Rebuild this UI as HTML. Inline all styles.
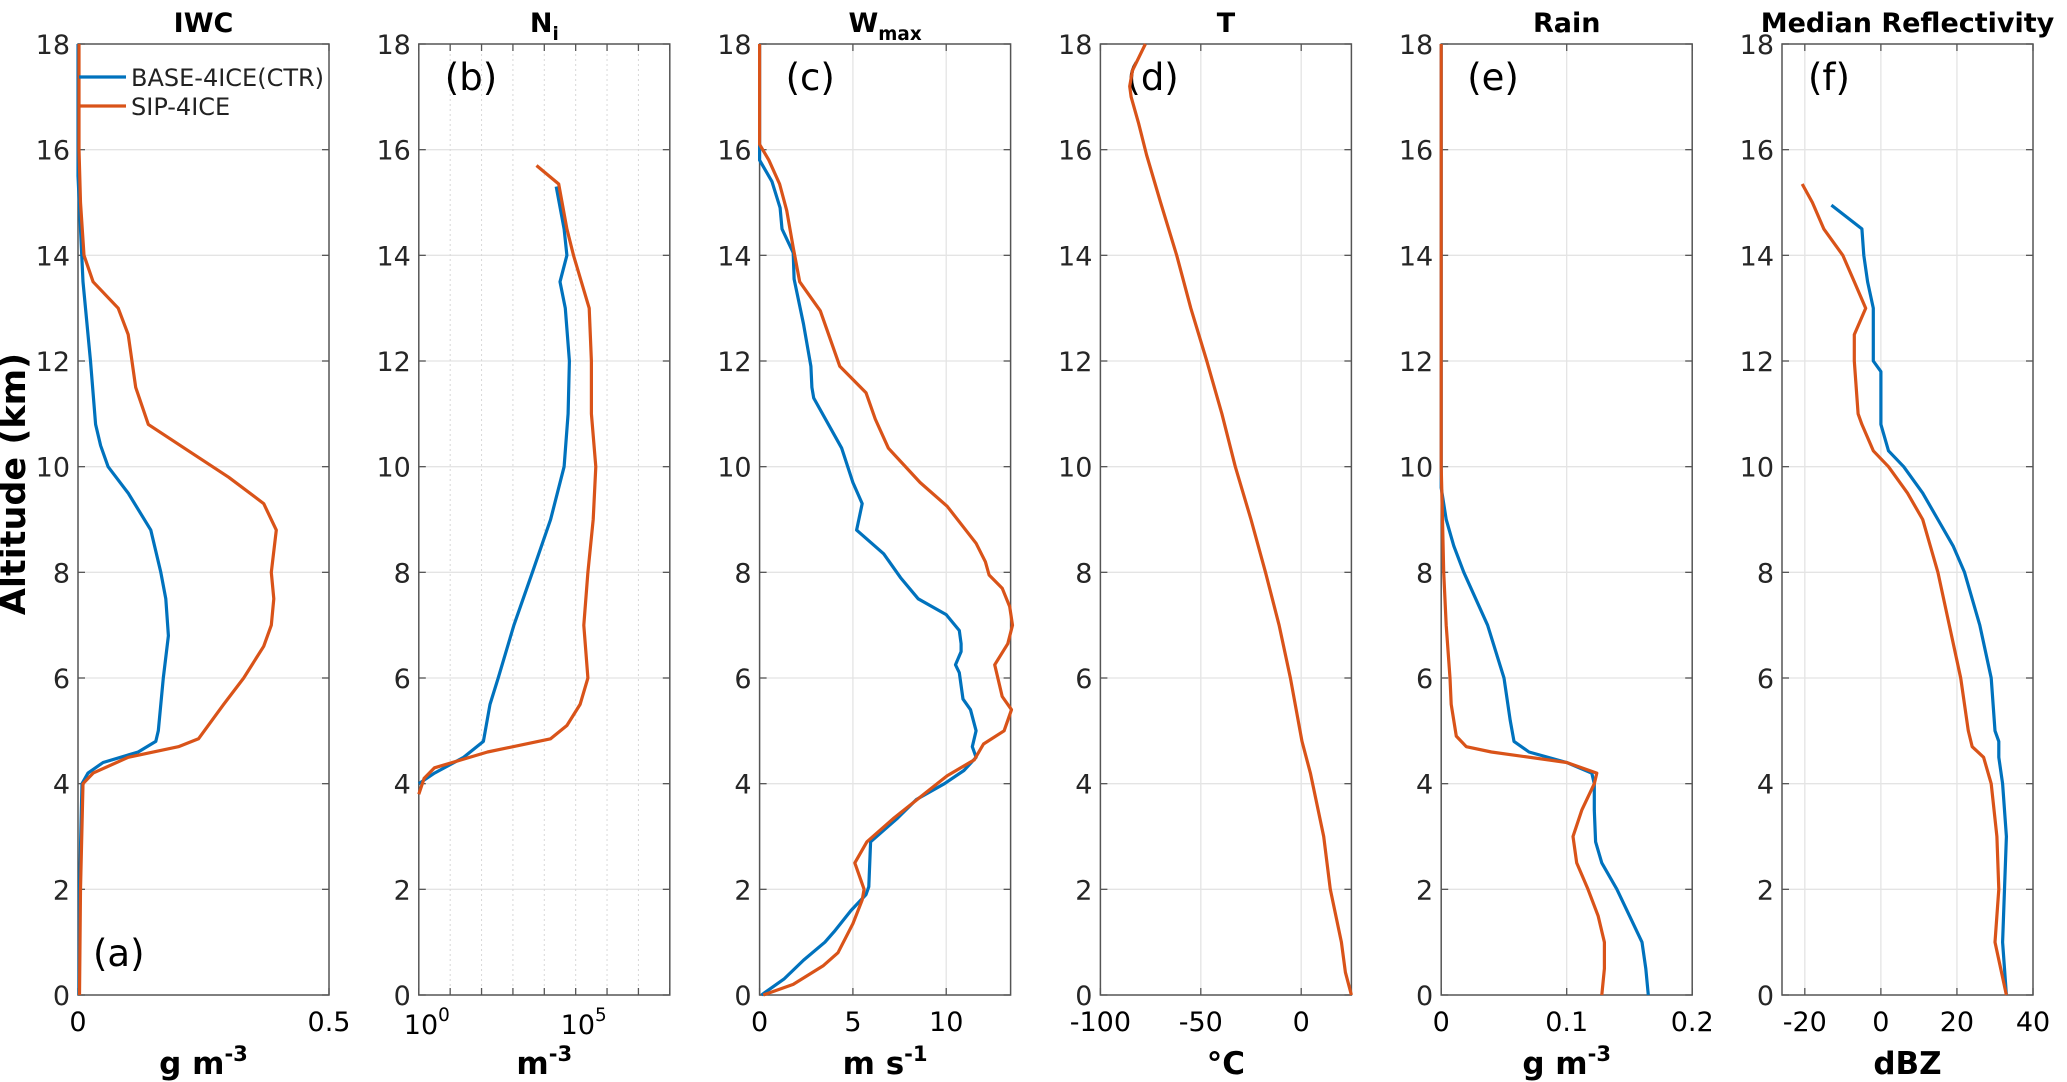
<!DOCTYPE html>
<html><head><meta charset="utf-8"><style>
html,body{margin:0;padding:0;background:#fff;}
svg{display:block;font-family:"DejaVu Sans","Liberation Sans",sans-serif;}
</style></head><body>
<svg id="fig" width="2067" height="1082" viewBox="0 0 2067 1082" xmlns="http://www.w3.org/2000/svg">
<text x="0" y="0" transform="translate(25,484) rotate(-90)" text-anchor="middle" font-size="35" font-weight="bold">Altitude (km)</text>
</svg>
<script>
// ---- data (altitude in km, values in axis units) ----
const iwcBaseAlt = [0,2,4,4.2,4.4,4.6,4.8,5,6,6.8,7.5,8,8.8,9.5,10,10.4,10.8,12,13,13.5,14.5,15.5,18];
const iwcBaseVal = [0.002,0.003,0.008,0.02,0.05,0.12,0.155,0.16,0.17,0.18,0.175,0.165,0.145,0.1,0.06,0.045,0.035,0.025,0.015,0.01,0.005,0,0];
const iwcSipAlt = [0,2,4,4.2,4.5,4.7,4.85,5.5,6,6.6,7,7.5,8,8.8,9.3,9.8,10.3,10.8,11.5,12.5,13,13.5,14,15,16,18];
const iwcSipVal = [0.003,0.005,0.01,0.03,0.1,0.2,0.24,0.29,0.33,0.37,0.385,0.39,0.385,0.395,0.37,0.3,0.22,0.14,0.115,0.1,0.08,0.03,0.012,0.005,0.002,0.002];
const niBaseAlt = [4.0,4.2,4.5,4.8,5.5,6,7,8,9,10,11,12,13,13.5,14,14.5,15.3];
const niBaseLog = [0,0.5,1.43,2.06,2.27,2.53,3.03,3.62,4.2,4.63,4.76,4.8,4.67,4.5,4.72,4.63,4.38];
const niSipAlt = [3.8,4.1,4.3,4.6,4.85,5.1,5.5,6,7,8,9,10,11,12,13,14,14.5,15.35,15.7];
const niSipLog = [0,0.17,0.5,2.19,4.2,4.72,5.14,5.39,5.26,5.39,5.56,5.64,5.5,5.5,5.43,4.93,4.72,4.46,3.75];
const wBaseAlt = [0,0.3,0.66,1.0,1.2,1.6,1.9,2.05,2.9,3.35,3.7,4.0,4.25,4.5,4.7,5.0,5.4,5.6,6.1,6.25,6.5,6.65,6.9,7.2,7.5,7.9,8.35,8.8,9.3,9.7,10.35,11.3,11.5,11.9,12.7,13.55,14.05,14.5,14.9,15.4,15.8,18];
const wBaseVal = [0.1,1.3,2.36,3.5,4.0,4.9,5.7,5.85,5.95,7.4,8.4,9.9,10.95,11.6,11.4,11.6,11.3,10.9,10.7,10.5,10.8,10.8,10.7,10.0,8.5,7.55,6.65,5.2,5.5,5.0,4.4,2.9,2.8,2.75,2.35,1.85,1.8,1.2,1.1,0.66,0,0];
const wSipAlt = [0,0.2,0.55,0.8,1.35,1.8,2.0,2.5,2.9,3.35,3.8,4.15,4.45,4.75,5.0,5.4,5.65,6.1,6.25,6.65,7.0,7.35,7.7,7.95,8.2,8.55,9.25,9.7,10.35,10.9,11.4,11.9,12.95,13.5,14.15,14.85,15.35,15.8,16.1,18];
const wSipVal = [0.2,1.8,3.4,4.2,5.0,5.5,5.6,5.1,5.75,7.2,8.8,10.05,11.5,12.0,13.1,13.5,13.0,12.7,12.6,13.3,13.55,13.4,13.0,12.3,12.1,11.6,10.05,8.6,6.9,6.2,5.7,4.3,3.25,2.15,1.8,1.45,1.07,0.5,0,0];
const tAlt = [0,0.43,1,2,3,4.2,4.8,6,7,8,9,10,11,12,13,14,15,15.9,16.5,17,17.2,17.5,18];
const tVal = [25,22,20,14.5,11.2,4.6,0.4,-5.4,-11,-17.8,-25,-32.8,-39.5,-47,-55,-62,-70,-77,-81,-84.7,-85.4,-84,-77.6];
const rainBaseAlt = [0,0.5,1,1.5,2,2.5,2.9,3.5,4,4.2,4.4,4.6,4.8,5.2,6,7,8,8.5,9,9.6,18];
const rainBaseVal = [0.165,0.163,0.16,0.15,0.14,0.128,0.123,0.122,0.122,0.12,0.1,0.07,0.058,0.055,0.05,0.037,0.018,0.01,0.004,0,0];
const rainSipAlt = [0,0.5,1,1.5,2,2.5,3,3.5,4,4.2,4.4,4.6,4.7,4.9,5.5,6,7,8,9,10,18];
const rainSipVal = [0.128,0.13,0.13,0.125,0.117,0.108,0.105,0.112,0.122,0.124,0.1,0.04,0.02,0.012,0.008,0.007,0.004,0.002,0.001,0,0];
const dbzBaseAlt = [0,1,2,3,4,4.5,4.8,5,6,7,8,8.5,9,9.5,10,10.3,10.8,11,11.8,12,13,13.5,14,14.5,14.95];
const dbzBaseVal = [33,32,32.5,33,32,31,31,30,29,26,22,19,15,11,6,2,0,0,0,-2,-2,-3.5,-4.5,-5,-13];
const dbzSipAlt = [0,1,2,3,4,4.5,4.7,5,6,7,8,8.5,9,9.5,10,10.3,10.8,11,12,12.5,13,13.5,14,14.5,15,15.35];
const dbzSipVal = [33,30,31,30.5,29,27,24,23,21,18,15,13,11,7,2,-2,-5,-6,-7,-7,-4,-7,-10,-15,-18,-20.7];

const xTickVals = [[0,0.5],[0,5],[0,5,10],[-100,-50,0],[0,0.1,0.2],[-20,0,20,40]];
const xTickText = [["0","0.5"],["10|0","10|5"],["0","5","10"],["-100","-50","0"],["0","0.1","0.2"],["-20","0","20","40"]];
const yTicks = [0,2,4,6,8,10,12,14,16,18];
const titles = ["IWC","N|i","W|max","T","Rain","Median Reflectivity"];
const letters = ["(a)","(b)","(c)","(d)","(e)","(f)"];
const units = ["g m|-3","m|-3","m s|-1","°C","g m|-3","dBZ"];

// ---- layout ----
const NS = "http://www.w3.org/2000/svg";
const svg = document.getElementById('fig');
const TOP = 44, BOT = 995, W = 251, LEFT0 = 78, STEP = 340.8;
const domains = [[0,0.5],[0,8],[0,13.45],[-100,25],[0,0.2],[-26,40]];
const BLUE = "#0072BD", RED = "#D95319";
function mk(tag, attrs, parent){const e=document.createElementNS(NS,tag);for(const k in attrs)e.setAttribute(k,attrs[k]);(parent||svg).appendChild(e);return e;}
function yS(a){return BOT-(a/18)*(BOT-TOP);}
function xS(i,v){const L=LEFT0+STEP*i,d=domains[i];return L+(v-d[0])/(d[1]-d[0])*W;}
function supText(parent, str, x, y, size, bold, anchor, sub){
  const parts = str.split('|');
  const t = mk('text',{x:x,y:y,'font-size':size,'text-anchor':anchor||'middle','font-weight':bold?'bold':'normal'},parent);
  t.appendChild(document.createTextNode(parts[0]));
  if(parts.length>1){const ts=mk('tspan',{dy:sub?8:-13,'font-size':size*0.68},t);ts.textContent=parts[1];}
  return t;
}

for(let i=0;i<6;i++){
  const L = LEFT0+STEP*i, R = L+W;
  const g = mk('g',{});
  
  
  yTicks.forEach(v=>{ if(v>0&&v<18){ const gl=mk('line',{x1:L,x2:R,y1:yS(v),y2:yS(v),stroke:'#e4e4e4','stroke-width':1.3},g);
     } });
  if(i===1){
    for(let d=1;d<8;d++){ const gl=mk('line',{x1:xS(1,d),x2:xS(1,d),y1:TOP,y2:BOT,stroke:'#d8d8d8','stroke-width':1,'stroke-dasharray':'2,3'},g);
       }
  } else {
    xTickVals[i].forEach(v=>{ const x=xS(i,v); if(x>L+1&&x<R-1){ const gl=mk('line',{x1:x,x2:x,y1:TOP,y2:BOT,stroke:'#e4e4e4','stroke-width':1.3},g);
       } });
  }
  yTicks.forEach(v=>{ const y=yS(v);
    mk('line',{x1:L,x2:L+7,y1:y,y2:y,stroke:'#555','stroke-width':1.3},g);
    mk('line',{x1:R-7,x2:R,y1:y,y2:y,stroke:'#555','stroke-width':1.3},g);
    const tl=mk('text',{x:L-8,y:y+10,'font-size':27,'text-anchor':'end',fill:'#262626'},g);
    tl.textContent=String(v);
     
  });
  const xt = i===1?[0,1,2,3,4,5,6,7,8]:xTickVals[i];
  xt.forEach(v=>{ const x=xS(i,v);
    mk('line',{x1:x,x2:x,y1:BOT,y2:BOT-7,stroke:'#555','stroke-width':1.3},g);
    mk('line',{x1:x,x2:x,y1:TOP,y2:TOP+7,stroke:'#555','stroke-width':1.3},g);
  });
  xTickVals[i].forEach((v,k)=>{
    const tl = supText(g, xTickText[i][k], xS(i,v)+(i===1?8:0), i===1?1034:1031, 27, false, 'middle');
     
  });
  const bx=mk('rect',{x:L,y:TOP,width:W,height:BOT-TOP,fill:'none',stroke:'#555','stroke-width':1.5},g);
   
  const tt = supText(g, titles[i], L+W/2, 32, 27, true, 'middle', true);
   
  const ul = supText(g, units[i], L+W/2, 1074, 31, true, 'middle');
   
  const lt = mk('text',{x:i===0?L+15:L+26, y:i===0?966:90,'font-size':37},g);
  lt.textContent = letters[i];
   
}

function line(i, alts, vals, color, name){
  const pts = alts.map((a,k)=>xS(i,vals[k]).toFixed(1)+','+yS(a).toFixed(1)).join(' ');
  const p = mk('polyline',{points:pts,fill:'none',stroke:color,'stroke-width':3.2,'stroke-linejoin':'round'});
  
  
}
line(0, iwcBaseAlt, iwcBaseVal, BLUE, 'iwc-base-line');
line(0, iwcSipAlt, iwcSipVal, RED, 'iwc-sip-line');
line(1, niBaseAlt, niBaseLog, BLUE, 'ni-base-line');
line(1, niSipAlt, niSipLog, RED, 'ni-sip-line');
line(2, wBaseAlt, wBaseVal, BLUE, 'wmax-base-line');
line(2, wSipAlt, wSipVal, RED, 'wmax-sip-line');
line(3, tAlt, tVal, RED, 'temperature-line');
line(4, rainBaseAlt, rainBaseVal, BLUE, 'rain-base-line');
line(4, rainSipAlt, rainSipVal, RED, 'rain-sip-line');
line(5, dbzBaseAlt, dbzBaseVal, BLUE, 'dbz-base-line');
line(5, dbzSipAlt, dbzSipVal, RED, 'dbz-sip-line');

const lg = mk('g',{});


mk('line',{x1:79,x2:126,y1:77,y2:77,stroke:BLUE,'stroke-width':3.2},lg);
const t1 = mk('text',{x:131,y:86,'font-size':24,fill:'#222'},lg); t1.textContent='BASE-4ICE(CTR)';
 
mk('line',{x1:79,x2:126,y1:106,y2:106,stroke:RED,'stroke-width':3.2},lg);
const t2 = mk('text',{x:131,y:115,'font-size':24,fill:'#222'},lg); t2.textContent='SIP-4ICE';
 
</script>
</body></html>
